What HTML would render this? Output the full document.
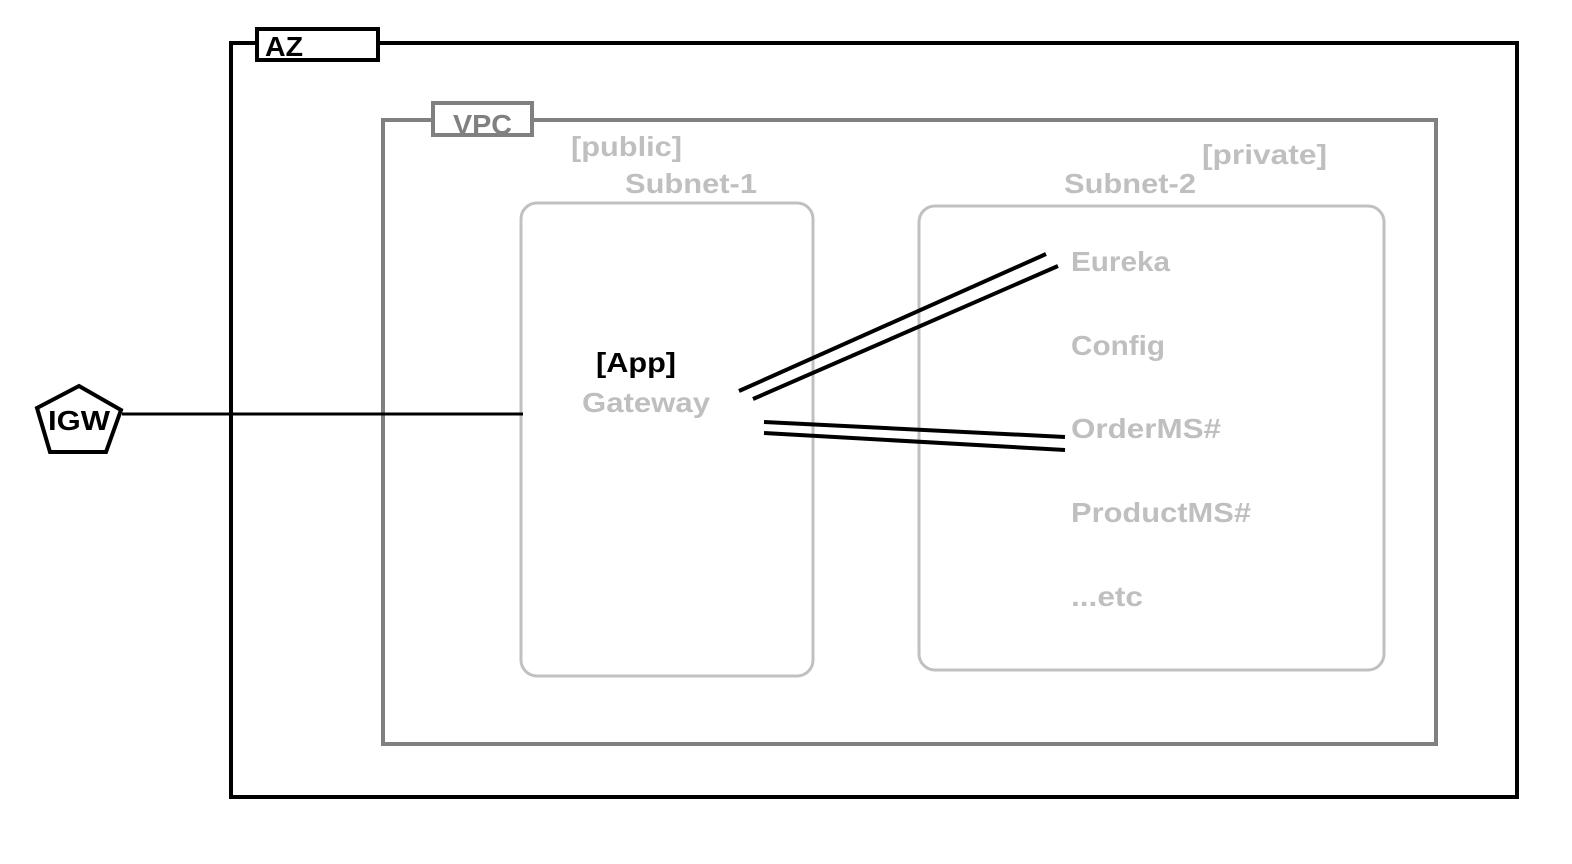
<!DOCTYPE html>
<html><head><style>html,body{margin:0;padding:0;background:#fff}svg{display:block}text{font-family:"Liberation Sans",Arial,sans-serif;font-weight:bold;font-size:28px}</style></head>
<body>
<svg width="1572" height="864" viewBox="0 0 1572 864" xmlns="http://www.w3.org/2000/svg">
<rect x="231" y="43" width="1286" height="754" fill="none" stroke="#000" stroke-width="4"/>
<rect x="257" y="29" width="121" height="31" fill="#fff" stroke="#000" stroke-width="4"/>
<text x="265" y="56" fill="#000" textLength="38" lengthAdjust="spacingAndGlyphs">AZ</text>
<rect x="383" y="120" width="1053" height="624" fill="none" stroke="#808080" stroke-width="4"/>
<rect x="433" y="103" width="99" height="32" fill="#fff" stroke="#808080" stroke-width="4"/>
<text x="453" y="134" fill="#808080" textLength="59" lengthAdjust="spacingAndGlyphs">VPC</text>
<rect x="521" y="203" width="292" height="473" rx="16" fill="none" stroke="#c0c0c0" stroke-width="3"/>
<rect x="919" y="206" width="465" height="464" rx="16" fill="none" stroke="#c0c0c0" stroke-width="3"/>
<g fill="#bfbfbf">
<text x="571" y="156" textLength="111" lengthAdjust="spacingAndGlyphs">[public]</text>
<text x="625" y="193" textLength="132" lengthAdjust="spacingAndGlyphs">Subnet-1</text>
<text x="1202" y="164" textLength="125" lengthAdjust="spacingAndGlyphs">[private]</text>
<text x="1064" y="193" textLength="132" lengthAdjust="spacingAndGlyphs">Subnet-2</text>
<text x="582" y="412" textLength="128" lengthAdjust="spacingAndGlyphs">Gateway</text>
<text x="1071" y="271" textLength="99" lengthAdjust="spacingAndGlyphs">Eureka</text>
<text x="1071" y="355" textLength="94" lengthAdjust="spacingAndGlyphs">Config</text>
<text x="1071" y="438" textLength="150" lengthAdjust="spacingAndGlyphs">OrderMS#</text>
<text x="1071" y="522" textLength="180" lengthAdjust="spacingAndGlyphs">ProductMS#</text>
<text x="1071" y="606" textLength="72" lengthAdjust="spacingAndGlyphs">...etc</text>
</g>
<text x="596" y="372" fill="#000" textLength="80" lengthAdjust="spacingAndGlyphs">[App]</text>
<line x1="122" y1="414" x2="523" y2="414" stroke="#000" stroke-width="3"/>
<polygon points="79,386 121,410 106,452 50,452 37,408" fill="#fff" stroke="#000" stroke-width="4"/>
<text x="48" y="430" fill="#000" textLength="62" lengthAdjust="spacingAndGlyphs">IGW</text>
<g stroke="#000" stroke-width="4">
<line x1="739" y1="391" x2="1046" y2="254"/>
<line x1="753" y1="399" x2="1058" y2="266"/>
<line x1="764" y1="422" x2="1065" y2="437"/>
<line x1="764" y1="433" x2="1065" y2="450"/>
</g>
</svg>
</body></html>
